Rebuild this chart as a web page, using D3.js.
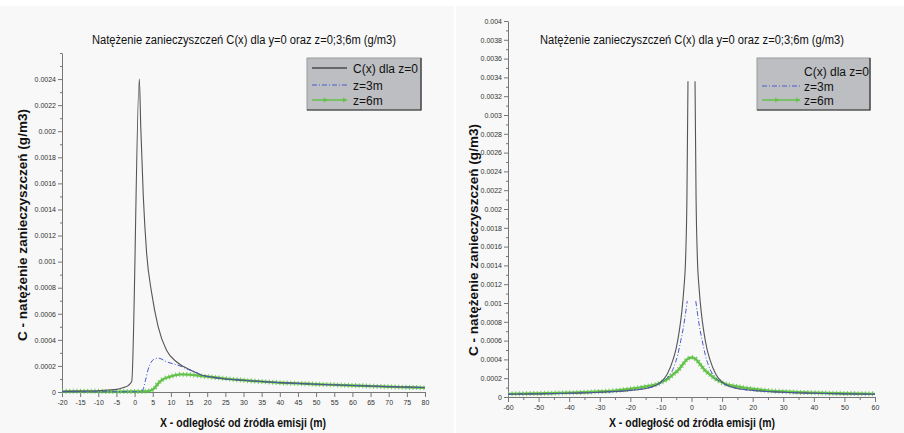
<!DOCTYPE html>
<html><head><meta charset="utf-8">
<script src="https://cdn.jsdelivr.net/npm/d3@7"></script>
<style>
body{margin:0;background:#fff}
text{font-family:"Liberation Sans",Arial,sans-serif}
</style>
</head><body>
<svg id="c" width="904" height="433"></svg>
<script>
// ---------- texts ----------
const titleText = "Natężenie zanieczyszczeń C(x) dla y=0 oraz z=0;3;6m (g/m3)";
const yTitle = "C - natężenie zanieczyszczeń (g/m3)";
const xTitle = "X - odległość od źródła emisji (m)";
const legendLabels = ["C(x) dla z=0", "z=3m", "z=6m"];

// ---------- tick labels ----------
const leftXTicks = [-20,-15,-10,-5,0,5,10,15,20,25,30,35,40,45,50,55,60,65,70,75,80];
const leftYTicks = [0,0.0002,0.0004,0.0006,0.0008,0.001,0.0012,0.0014,0.0016,0.0018,0.002,0.0022,0.0024];
const leftYMinor = [0.0001,0.0003,0.0005,0.0007,0.0009,0.0011,0.0013,0.0015,0.0017,0.0019,0.0021,0.0023,0.0025,0.0026];
const rightXTicks = [-60,-50,-40,-30,-20,-10,0,10,20,30,40,50,60];
const rightXMinor = [-55,-45,-35,-25,-15,-5,5,15,25,35,45,55];
const rightYTicks = [0,0.0002,0.0004,0.0006,0.0008,0.001,0.0012,0.0014,0.0016,0.0018,0.002,0.0022,0.0024,0.0026,0.0028,0.003,0.0032,0.0034,0.0036,0.0038,0.004];
const rightYMinor = [0.0001,0.0003,0.0005,0.0007,0.0009,0.0011,0.0013,0.0015,0.0017,0.0019,0.0021,0.0023,0.0025,0.0027,0.0029,0.0031,0.0033,0.0035,0.0037,0.0039];

// ---------- left chart data (x, C) ----------
const leftZ0 = [[-20,0.000005],[-15,0.000007],[-10,0.00001],[-7,0.000015],[-5,0.00002],[-3,0.000035],[-2,0.000045],[-0.8,0.00008],
  [1.3,0.0024],[1.7,0.00203],[2.4,0.0015],[3.3,0.00107],[4.7,0.00076],[6.5,0.0005],[8.8,0.00032],[11.6,0.00023],[15.3,0.00017],
  [18,0.000135],[21.7,0.000112],[25,0.0001],[30,0.00009],[35,0.00008],[40,0.000072],[50,0.00006],[60,0.00005],[70,0.000041],[80,0.000034]];
const leftZ3 = [[-20,0.000002],[-10,0.000002],[0,0.000002],[2,0.000003],[3,0.00009],[3.7,0.00017],[4.6,0.00023],[5.6,0.000255],[6.5,0.00026],
  [8.8,0.000232],[12.5,0.0002],[15,0.00017],[17,0.000152],[18,0.000135],[21.7,0.000112],[25,0.0001],[30,0.00009],[35,0.00008],[40,0.000072],
  [50,0.00006],[60,0.00005],[70,0.000041],[80,0.000034]];
const leftZ6 = [[-20,0.000005],[-15,0.000005],[-10,0.000005],[-5,0.000003],[0,0.000004],[3,0.000005],[4.5,0.000012],[5.5,0.00003],[6.3,0.00006],
  [7,0.00008],[8,0.0001],[9.75,0.000117],[12.6,0.000135],[15,0.000133],[18,0.000124],[21.7,0.000113],[25,0.000103],[30.9,0.000088],[35,0.00008],
  [40,0.000071],[45,0.000066],[50,0.00006],[55,0.000055],[60,0.00005],[65,0.000045],[70,0.00004],[75,0.000036],[80,0.000032]];

// ---------- right chart data (x, C); null marks the singular point ----------
const rightZ0 = [[-60,0.00003],[-50,0.000033],[-40,0.00004],[-30,0.00005],[-20,0.00007],[-15,0.00009],[-12,0.00012],[-10,0.00016],[-8,0.00024],
  [-6,0.0004],[-5,0.00052],[-4,0.0007],[-3.2,0.0009],[-2.5,0.00115],[-1.9,0.0015],[-1.5,0.0021],[-1.15,0.00336],[0,null],
  [1.15,0.00336],[1.5,0.0021],[1.9,0.0015],[2.5,0.00115],[3.2,0.0009],[4,0.0007],[5,0.00052],[6,0.0004],[8,0.00024],[10,0.00016],
  [12,0.00012],[15,0.00009],[20,0.00007],[30,0.00005],[40,0.00004],[50,0.000033],[60,0.00003]];
const rightZ3 = [[-60,0.00003],[-50,0.000033],[-40,0.00004],[-30,0.00005],[-20,0.00007],[-15,0.00009],[-12.5,0.00011],[-10,0.00015],[-8,0.0002],
  [-6,0.0003],[-4.5,0.00045],[-3.5,0.0006],[-2.6,0.00075],[-2,0.00088],[-1.4,0.00102],[0,null],
  [1.4,0.00102],[2,0.00088],[2.6,0.00075],[3.5,0.0006],[4.5,0.00045],[6,0.0003],[8,0.0002],[10,0.00015],[12.5,0.00011],[15,0.00009],
  [20,0.00007],[30,0.00005],[40,0.00004],[50,0.000033],[60,0.00003]];
const rightZ6 = [[-60,0.000033],[-50,0.000038],[-40,0.000045],[-35,0.00005],[-30,0.000058],[-25,0.000068],[-21,0.000082],[-17,0.0001],
  [-13.5,0.00012],[-11,0.00014],[-9,0.00017],[-7.5,0.0002],[-6,0.00024],[-4.5,0.00028],[-3,0.00034],[-1.5,0.0004],[0,0.00042],
  [1.5,0.0004],[3,0.00034],[4.5,0.00028],[6,0.00024],[7.5,0.0002],[9,0.00017],[11,0.00014],[13.5,0.00012],[17,0.0001],[21,0.000082],
  [25,0.000068],[30,0.000058],[35,0.00005],[40,0.000045],[50,0.000038],[60,0.000033]];

// ---------- drawing ----------
const svg = d3.select("#c");
const fmtY = v => (+v.toFixed(5)).toString();
const C_BLACK = "#555", C_BLUE = "#4a58d0", C_GREEN = "#62c24a";

// panels
svg.append("rect").attr("x",0).attr("y",6).attr("width",454).attr("height",427).attr("fill","#f8f8f8");
svg.append("rect").attr("x",456).attr("y",6).attr("width",448).attr("height",427).attr("fill","#f8f8f8");

function drawChart(cfg){
  const g = svg.append("g");
  const x = d3.scaleLinear().domain(cfg.xDomain).range(cfg.xRange);
  const y = d3.scaleLinear().domain(cfg.yDomain).range(cfg.yRange);

  // title
  g.append("text").attr("x",cfg.titleX).attr("y",44).attr("text-anchor","middle")
    .attr("font-size",12).attr("fill","#111")
    .attr("textLength",304).attr("lengthAdjust","spacingAndGlyphs").text(titleText);

  // y axis
  const yAx = g.append("g").attr("transform",`translate(${cfg.xRange[0]},0)`)
    .call(d3.axisLeft(y).tickValues(cfg.yTicks).tickFormat(fmtY).tickSize(4).tickSizeOuter(0));
  g.append("g").attr("transform",`translate(${cfg.xRange[0]},0)`)
    .call(d3.axisLeft(y).tickValues(cfg.yMinor).tickFormat("").tickSize(2).tickSizeOuter(0))
    .select(".domain").remove();
  // x axis
  const xAx = g.append("g").attr("transform",`translate(0,${cfg.yRange[0]})`)
    .call(d3.axisBottom(x).tickValues(cfg.xTicks).tickFormat(d=>String(d)).tickSize(5).tickSizeOuter(0));
  if (cfg.xMinor) {
    g.append("g").attr("transform",`translate(0,${cfg.yRange[0]})`)
      .call(d3.axisBottom(x).tickValues(cfg.xMinor).tickFormat("").tickSize(3).tickSizeOuter(0))
      .select(".domain").remove();
  }
  g.selectAll(".domain").attr("stroke","#777");
  g.selectAll(".tick line").attr("stroke","#777");
  g.selectAll(".tick text").attr("font-size",7).attr("fill","#333")
    .attr("font-family","'Liberation Sans',Arial,sans-serif");
  yAx.selectAll(".tick text").attr("x",-6);
  xAx.selectAll(".tick text").attr("y",8);

  // axis titles
  g.append("text").attr("transform",`translate(${cfg.yTitleX},${cfg.yTitleY}) rotate(-90)`)
    .attr("text-anchor","middle").attr("font-size",12.5).attr("font-weight","bold").attr("fill","#111")
    .attr("textLength",232).attr("lengthAdjust","spacingAndGlyphs").text(yTitle);
  g.append("text").attr("x",cfg.xTitleX).attr("y",427).attr("text-anchor","middle")
    .attr("font-size",12.5).attr("font-weight","bold").attr("fill","#111")
    .attr("textLength",166).attr("lengthAdjust","spacingAndGlyphs").text(xTitle);

  const line = d3.line().defined(d=>d[1]!==null).x(d=>x(d[0])).y(d=>y(d[1])).curve(d3.curveMonotoneX);

  // series
  g.append("path").attr("d",line(cfg.z6)).attr("fill","none").attr("stroke",C_GREEN).attr("stroke-width",2.4);
  g.append("path").attr("d",line(cfg.z6)).attr("fill","none").attr("stroke",C_GREEN).attr("stroke-width",5)
    .attr("stroke-dasharray","1 2.6").attr("opacity",0.85);
  g.append("path").attr("d",line(cfg.z0)).attr("fill","none").attr("stroke",C_BLACK).attr("stroke-width",1.1);
  g.append("path").attr("d",line(cfg.z3)).attr("fill","none").attr("stroke",C_BLUE).attr("stroke-width",1)
    .attr("stroke-dasharray","5 2 1 2");

  // legend
  const L = cfg.legend;
  const lg = g.append("g").attr("transform",`translate(${L.x},${L.y})`);
  lg.append("rect").attr("width",L.w).attr("height",L.h).attr("fill","#bcbec1").attr("stroke","#999");
  lg.append("path").attr("d",`M${L.w},0V${L.h}H0`).attr("fill","none").attr("stroke","#333").attr("stroke-width",1.2);
  const rows = L.rows;
  if (L.showFirstLine) {
    lg.append("line").attr("x1",L.lx1).attr("x2",L.lx2).attr("y1",rows[0]).attr("y2",rows[0]).attr("stroke","#111").attr("stroke-width",1);
  }
  lg.append("line").attr("x1",L.lx1).attr("x2",L.lx2).attr("y1",rows[1]).attr("y2",rows[1])
    .attr("stroke",C_BLUE).attr("stroke-width",1).attr("stroke-dasharray","5 2 1 2");
  lg.append("line").attr("x1",L.lx1).attr("x2",L.lx2).attr("y1",rows[2]).attr("y2",rows[2])
    .attr("stroke",C_GREEN).attr("stroke-width",1.6);
  [L.lx1 + (L.lx2-L.lx1)*0.45, L.lx2].forEach(px=>{
    lg.append("path").attr("d",`M${px-4},${rows[2]-2.5}L${px},${rows[2]}L${px-4},${rows[2]+2.5}Z`).attr("fill",C_GREEN);
  });
  legendLabels.forEach((t,i)=>{
    lg.append("text").attr("x",L.tx).attr("y",rows[i]+4.5).attr("font-size",12).attr("fill","#111").text(t);
  });
}

drawChart({
  xDomain:[-20,80], xRange:[62,425], yDomain:[0,0.0026], yRange:[392,53],
  xTicks:leftXTicks, xMinor:null, yTicks:leftYTicks, yMinor:leftYMinor,
  titleX:244, yTitleX:27, yTitleY:225, xTitleX:243,
  z0:leftZ0, z3:leftZ3, z6:leftZ6,
  legend:{x:307,y:58,w:114,h:52,rows:[10,27,42],lx1:5,lx2:40,tx:46,showFirstLine:true}
});
drawChart({
  xDomain:[-60,60], xRange:[508,875], yDomain:[0,0.004], yRange:[397,21],
  xTicks:rightXTicks, xMinor:rightXMinor, yTicks:rightYTicks, yMinor:rightYMinor,
  titleX:692, yTitleX:478, yTitleY:240, xTitleX:692,
  z0:rightZ0, z3:rightZ3, z6:rightZ6,
  legend:{x:757,y:58,w:113,h:52,rows:[13,28,42],lx1:5,lx2:43,tx:47,showFirstLine:false}
});
</script>
</body></html>
